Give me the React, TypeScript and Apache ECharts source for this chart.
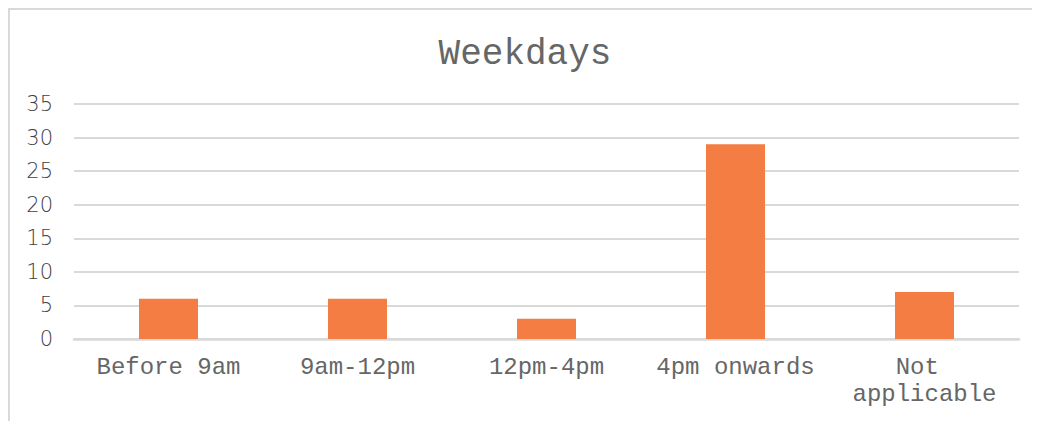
import React, { useEffect, useRef } from "react";
import * as echarts from "echarts";

const titleText = "Weekdays";
const categories = ["Before 9am", "9am-12pm", "12pm-4pm", "4pm onwards", "Not applicable"];
const values = [6, 6, 3, 29, 7];
const yMin = 0;
const yMax = 35;
const yInterval = 5;

export default function App() {
  const ref = useRef<HTMLDivElement>(null);
  useEffect(() => {
    if (!ref.current) return;
    const chart = echarts.init(ref.current, undefined, { renderer: "svg" });
    chart.setOption({
      animation: false,
      backgroundColor: "#ffffff",
      title: {
        text: titleText,
        left: "center",
        top: 21,
        textStyle: {
          fontFamily: "'Liberation Mono'",
          fontSize: 36,
          fontWeight: "normal",
          color: "#666666",
        },
      },
      grid: { left: 64, right: 21, top: 94, bottom: 82, containLabel: false },
      xAxis: {
        type: "category",
        data: categories,
        axisLine: { lineStyle: { color: "#d9d9d9", width: 2.5 } },
        axisTick: { show: false },
        axisLabel: {
          interval: 0,
          margin: 15,
          fontFamily: "'Liberation Mono'",
          fontSize: 24,
          color: "#666666",
          lineHeight: 27,
          width: 180,
          overflow: "break",
        },
      },
      yAxis: {
        type: "value",
        min: yMin,
        max: yMax,
        interval: yInterval,
        axisLine: { show: false },
        axisTick: { show: false },
        splitLine: { lineStyle: { color: "#d9d9d9", width: 2 } },
        axisLabel: {
          margin: 21,
          fontFamily: "'DejaVu Sans'",
          fontSize: 21,
          fontWeight: 200,
          color: "#3f3f3f",
        },
      },
      series: [
        {
          type: "bar",
          data: values,
          barWidth: 59,
          itemStyle: { color: "#F37D43" },
        },
      ],
    });
    return () => chart.dispose();
  }, []);
  return (
    <div
      style={{
        width: 1032,
        height: 413,
        borderTop: "2px solid #d9d9d9",
        borderLeft: "2px solid #d9d9d9",
        boxSizing: "border-box",
        overflow: "hidden",
      }}
    >
      <div ref={ref} style={{ width: 1030, height: 411 }} />
    </div>
  );
}
